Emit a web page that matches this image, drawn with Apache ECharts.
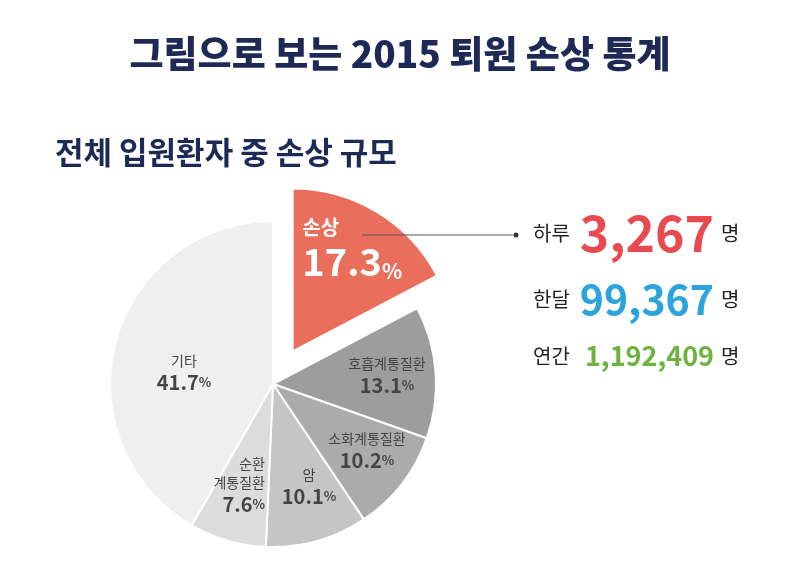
<!DOCTYPE html>
<html>
<head>
<meta charset="utf-8">
<script src="https://cdn.jsdelivr.net/npm/echarts@6/dist/echarts.min.js"></script>
<style>
html, body { margin: 0; padding: 0; background: #fff; }
#chart { width: 800px; height: 587px; }
</style>
</head>
<body>
<div id="chart"></div>
<script>
// pie data (clockwise from 12 o'clock)
const categories = ['손상', '호흡계통질환', '소화계통질환', '암', '순환계통질환', '기타']
const labelNames = ['손상', '호흡계통질환', '소화계통질환', '암', '순환\n계통질환', '기타']
const shares = [17.3, 13.1, 10.2, 10.1, 7.6, 41.7]
const sliceColors = ['#e96e5c', '#9d9d9d', '#ababab', '#c5c5c5', '#dcdcdc', '#efefef']

// right panel
const periodLabels = ['하루', '한달', '연간']
const injuredCounts = [3267, 99367, 1192409]
const countColors = ['#e84a4f', '#2ba3dd', '#6db33f']

const FONT = '"Noto Sans CJK KR", "Noto Sans", sans-serif'

// label anchor spots inside the slices (the selected one only takes a shift)
const labelPos = [
  { dx: -34, dy: -32 },
  { x: 387, y: 376 },
  { x: 367, y: 451 },
  { x: 309, y: 487 },
  { x: 265, y: 485, align: 'right' },
  { x: 184, y: 373 }
]

const rowY = [233, 299, 356]
const rowFont = [50, 41, 27]

const chart = echarts.init(document.getElementById('chart'))

const panel = []
periodLabels.forEach((p, i) => {
  panel.push({
    type: 'text', x: 533, y: rowY[i],
    style: { text: p, font: '20px ' + FONT, fill: '#222', verticalAlign: 'middle' }
  })
  panel.push({
    type: 'text', x: 714, y: rowY[i],
    style: {
      text: injuredCounts[i].toLocaleString('en-US'),
      font: 'bold ' + rowFont[i] + 'px ' + FONT,
      fill: countColors[i], align: 'right', verticalAlign: 'middle'
    }
  })
  panel.push({
    type: 'text', x: 721, y: rowY[i],
    style: { text: '명', font: '20px ' + FONT, fill: '#222', verticalAlign: 'middle' }
  })
})

const option = {
  animation: false,
  title: [
    {
      text: '그림으로 보는 2015 퇴원 손상 통계',
      left: 'center',
      top: 30,
      textStyle: { fontFamily: FONT, fontSize: 37, fontWeight: 900, color: '#1e2a55' }
    },
    {
      text: '전체 입원환자 중 손상 규모',
      left: 50,
      top: 132,
      textStyle: { fontFamily: FONT, fontSize: 31, fontWeight: 'bold', color: '#1e2a55' }
    }
  ],
  graphic: [
    {
      type: 'line',
      z: 100,
      shape: { x1: 362, y1: 235, x2: 513, y2: 235 },
      style: { stroke: '#555', lineWidth: 1 }
    },
    {
      type: 'circle',
      z: 100,
      shape: { cx: 516, cy: 235, r: 2.5 },
      style: { fill: '#333' }
    }
  ].concat(panel),
  series: [
    {
      type: 'pie',
      center: [273, 384],
      radius: 163,
      startAngle: 90,
      clockwise: true,
      selectedMode: 'single',
      selectedOffset: 38,
      emphasis: { disabled: true },
      itemStyle: { borderColor: '#fff', borderWidth: 2 },
      label: {
        show: true,
        position: 'inside',
        fontFamily: FONT,
        lineHeight: 20,
        formatter: (p) => {
          const i = p.dataIndex
          if (i === 0) {
            return '{sn|' + labelNames[i] + '}\n{sv|' + shares[i] + '}{sp|%}'
          }
          const names = labelNames[i].split('\n').map(n => '{n|' + n + '}').join('\n')
          return names + '\n{v|' + shares[i] + '}{p|%}'
        },
        rich: {
          sn: { fontFamily: FONT, fontSize: 20, fontWeight: 'bold', color: '#fff', lineHeight: 28 },
          sv: { fontFamily: FONT, fontSize: 38, fontWeight: 'bold', color: '#fff', lineHeight: 40 },
          sp: { fontFamily: FONT, fontSize: 21, fontWeight: 'bold', color: '#fff', lineHeight: 40, verticalAlign: 'bottom' },
          n: { fontFamily: FONT, fontSize: 14, color: '#444', lineHeight: 19 },
          v: { fontFamily: FONT, fontSize: 20, fontWeight: 'bold', color: '#444', lineHeight: 24 },
          p: { fontFamily: FONT, fontSize: 13, fontWeight: 'bold', color: '#444', lineHeight: 24 }
        }
      },
      labelLine: { show: false },
      labelLayout: (params) => {
        const lp = labelPos[params.dataIndex]
        if (lp.x === undefined) return { dx: lp.dx, dy: lp.dy, align: 'left', verticalAlign: 'middle' }
        return { x: lp.x, y: lp.y, align: lp.align || 'center', verticalAlign: 'middle' }
      },
      data: categories.map((c, i) => ({
        name: c,
        value: shares[i],
        selected: i === 0,
        itemStyle: { color: sliceColors[i] }
      }))
    }
  ]
}

chart.setOption(option)
</script>
</body>
</html>
